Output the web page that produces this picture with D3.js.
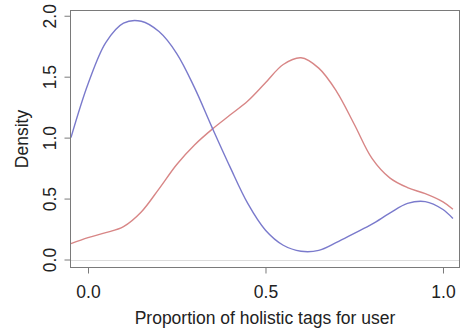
<!DOCTYPE html>
<html>
<head>
<meta charset="utf-8">
<script src="https://cdn.jsdelivr.net/npm/d3@7"></script>
<style>
  body { margin: 0; background: #fff; }
  text { font-family: "Liberation Sans", Arial, sans-serif; fill: #222; }
</style>
</head>
<body>
<div class="canvas"></div>
<script>
// density estimates
const xs = [-0.048, 0, 0.05, 0.1, 0.15, 0.2, 0.25, 0.3, 0.35, 0.4, 0.45, 0.5,
            0.55, 0.6, 0.65, 0.7, 0.75, 0.8, 0.85, 0.9, 0.95, 1.0, 1.028];
const blueDensity = [1.00, 1.44, 1.78, 1.94, 1.955, 1.87, 1.69, 1.41, 1.08, 0.76, 0.46, 0.24,
                     0.117, 0.068, 0.075, 0.14, 0.215, 0.29, 0.38, 0.46, 0.475, 0.41, 0.337];
const redDensity = [0.131, 0.18, 0.22, 0.27, 0.39, 0.58, 0.78, 0.94, 1.07, 1.185, 1.30, 1.45,
                    1.60, 1.655, 1.57, 1.38, 1.11, 0.83, 0.67, 0.59, 0.54, 0.473, 0.413];
const xTicks = [0, 0.5, 1.0];
const yTicks = [0, 0.5, 1.0, 1.5, 2.0];
const xTitle = 'Proportion of holistic tags for user';
const yTitle = 'Density';

const dims = {'width':461, 'height':328};
const box = {'left':70.5, 'top':10.5, 'right':459.5, 'bottom':267.5};
const fontSize = 17.5;

const svg = d3.select('.canvas')
                .append('svg')
                .attr('width', dims.width)
                .attr('height', dims.height);

const x = d3.scaleLinear().domain([-0.0493, 1.0465]).range([box.left, box.right]);
const y = d3.scaleLinear().domain([-0.0656, 2.043]).range([box.bottom, box.top]);

// zero line
svg.append('line')
    .attr('x1', box.left).attr('x2', box.right)
    .attr('y1', Math.round(y(0)) + 0.5).attr('y2', Math.round(y(0)) + 0.5)
    .attr('stroke', '#dcdcdc').attr('stroke-width', 1);

// curves
const line = d3.line()
                .x(d => x(d[0]))
                .y(d => y(d[1]))
                .curve(d3.curveCatmullRom.alpha(0.5));

const series = [
    {name:'red', values: redDensity, color:'#d88686'},
    {name:'blue', values: blueDensity, color:'#7a7acc'}
];
series.forEach(s => {
    svg.append('path')
        .datum(xs.map((v, i) => [v, s.values[i]]))
        .attr('d', line)
        .attr('fill', 'none')
        .attr('stroke', s.color)
        .attr('stroke-width', 1.4);
});

// box
svg.append('rect')
    .attr('x', box.left).attr('y', box.top)
    .attr('width', box.right - box.left).attr('height', box.bottom - box.top)
    .attr('fill', 'none').attr('stroke', '#7a7a7a').attr('stroke-width', 1);

// axes
const xAxis = svg.append('g')
    .attr('transform', `translate(0,${box.bottom})`)
    .call(d3.axisBottom(x).tickValues(xTicks).tickFormat(d3.format('.1f')).tickSize(6).tickPadding(12));
const yAxis = svg.append('g')
    .attr('transform', `translate(${box.left},0)`)
    .call(d3.axisLeft(y).tickValues(yTicks).tickFormat(d3.format('.1f')).tickSize(6));

[xAxis, yAxis].forEach(a => {
    a.select('.domain').remove();
    a.selectAll('line').attr('stroke', '#7a7a7a');
    a.selectAll('text').attr('font-size', fontSize).attr('fill', '#222')
        .attr('font-family', '"Liberation Sans", Arial, sans-serif');
});
yAxis.selectAll('text')
    .attr('transform', 'rotate(-90)')
    .attr('text-anchor', 'middle')
    .attr('x', 0).attr('y', -14.5).attr('dy', 0);

// titles
svg.append('text')
    .attr('x', (box.left + box.right) / 2)
    .attr('y', 324)
    .attr('text-anchor', 'middle')
    .attr('font-size', fontSize)
    .text(xTitle);
svg.append('text')
    .attr('transform', `translate(28,${(box.top + box.bottom) / 2}) rotate(-90)`)
    .attr('text-anchor', 'middle')
    .attr('font-size', fontSize)
    .text(yTitle);
</script>
</body>
</html>
